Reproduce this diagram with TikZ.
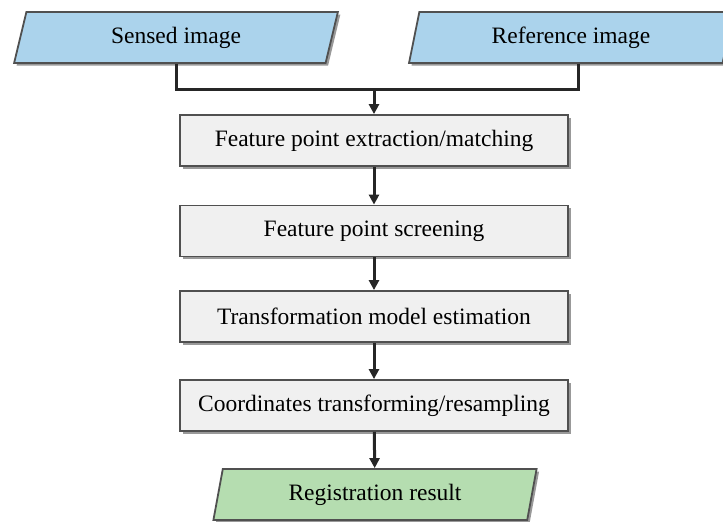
\documentclass[tikz,border=0pt]{standalone}
\usepackage{fontspec}
\setmainfont{Liberation Serif}
\usetikzlibrary{shapes.geometric}
\usetikzlibrary{shadows}
\usetikzlibrary{arrows.meta}
\definecolor{inblue}{RGB}{171,211,236}
\definecolor{outgreen}{RGB}{181,221,176}
\definecolor{boxgray}{RGB}{240,240,240}
\definecolor{edgegray}{RGB}{80,80,80}

\begin{document}
\begin{tikzpicture}[x=1pt,y=-1pt,
    every node/.style={font=\fontsize{23.5}{28}\selectfont},
    softshadow/.style={drop shadow={shadow xshift=2.5pt,shadow yshift=-2.5pt,fill=black,opacity=0.4}},
    iobox/.style={trapezium,trapezium left angle=76,trapezium right angle=104,
        trapezium stretches=true,
        draw=edgegray,line width=1.8pt,minimum width=324pt,minimum height=51pt,
        inner sep=0pt,softshadow},
    stepbox/.style={rectangle,draw=edgegray,line width=1.8pt,fill=boxgray,
        minimum width=388pt,minimum height=51pt,inner sep=0pt,softshadow},
    flow/.style={line width=3pt,black!85},
    flowarrow/.style={flow,-{Triangle[length=10pt,width=10pt]}}]
\useasboundingbox (0,0) rectangle (723,522);

% inputs
\node[iobox,fill=inblue] (sensed) at (176,37.5) {Sensed image};
\node[iobox,fill=inblue] (refimg) at (571,37.5) {Reference image};

% processing steps
\node[stepbox] (extract) at (374,140.5) {Feature point extraction/matching};
\node[stepbox] (screen) at (374,231) {Feature point screening};
\node[stepbox] (model) at (374,316.5) {Transformation model estimation};
\node[stepbox] (resample) at (374,405.5) {Coordinates transforming/resampling};

% output
\node[iobox,fill=outgreen] (result) at (375,494.5) {Registration result};

\coordinate (merge) at (374,89);

\draw[flow] (sensed.south) |- (merge);
\draw[flow] ([xshift=7pt]refimg.south) |- (merge);
\draw[flowarrow] (merge) -- (extract);
\draw[flowarrow] (extract) -- (screen);
\draw[flowarrow] (screen) -- (model);
\draw[flowarrow] (model) -- (resample);
\draw[flowarrow] (resample) -- (result);
\end{tikzpicture}
\end{document}
